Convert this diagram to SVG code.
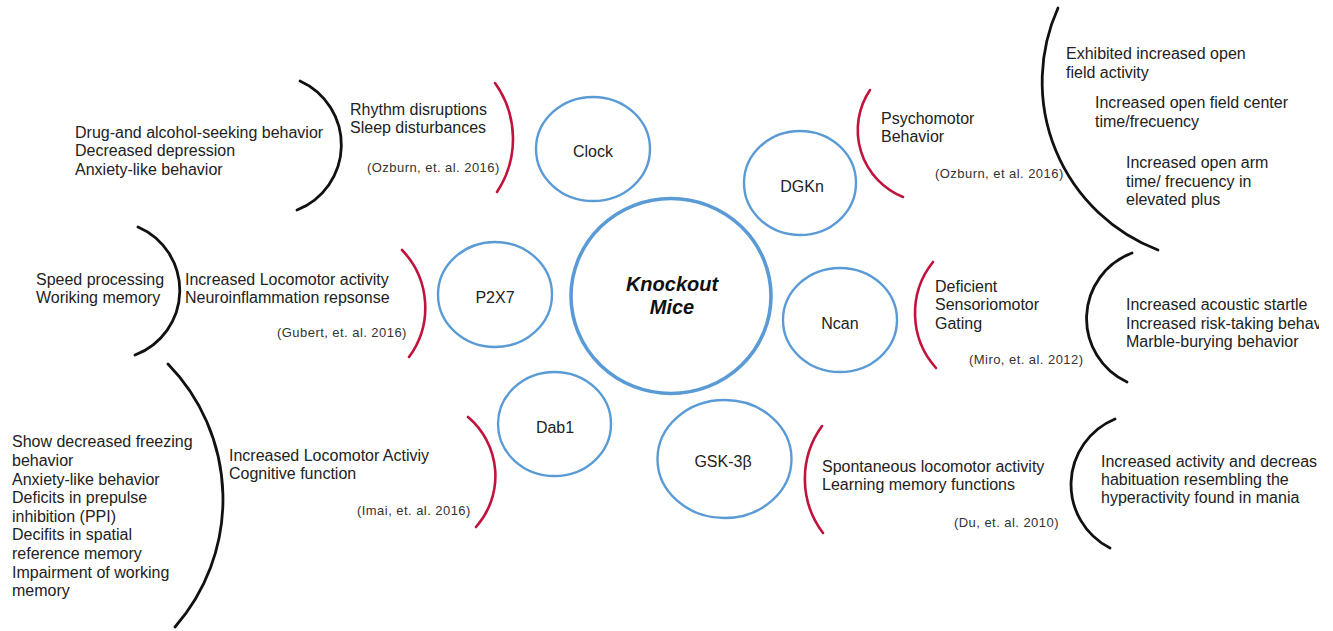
<svg xmlns="http://www.w3.org/2000/svg" width="1333" height="631" viewBox="0 0 1333 631">
<style>
.bg{fill:#ffffff}
.node{fill:#ffffff;stroke:#5b9bd5;stroke-width:2.4}
.hub{fill:#ffffff;stroke:#5b9bd5;stroke-width:3.6}
.red{fill:none;stroke:#c0143c;stroke-width:2.6;stroke-linecap:round}
.blk{fill:none;stroke:#111111;stroke-width:2.8;stroke-linecap:round}
text{font-family:"Liberation Sans",Arial,sans-serif;fill:#222222}
.t{font-size:16px}
.lbl{font-size:16px;text-anchor:middle}
.hubt{font-size:20px;font-weight:bold;font-style:italic;text-anchor:middle;fill:#111111}
.cit{font-size:13px;letter-spacing:0.45px;fill:#333333}
</style>
<defs>
<clipPath id="edge"><rect x="0" y="0" width="1319" height="631"/></clipPath>
</defs>
<rect class="bg" x="0" y="0" width="1333" height="631"/>

<g id="connectors">
<path class="red" d="M495,83 A96,96 0 0 1 497,192"/>
<path class="red" d="M402,250 A83,83 0 0 1 409,357"/>
<path class="red" d="M468,417 A77,77 0 0 1 476,527"/>
<path class="red" d="M870,90 A72,72 0 0 0 903,197"/>
<path class="red" d="M933,262 A82,82 0 0 0 936,368"/>
<path class="red" d="M822,426 A90,90 0 0 0 823,533"/>
<path class="blk" d="M300,81 A70,70 0 0 1 297,210"/>
<path class="blk" d="M138,227 A69,69 0 0 1 135,355"/>
<path class="blk" d="M168,364 A194,194 0 0 1 175,627"/>
<path class="blk" d="M1058,8 A180,180 0 0 0 1158,250"/>
<path class="blk" d="M1132,253 A70,70 0 0 0 1127,382"/>
<path class="blk" d="M1115,419 A71,71 0 0 0 1110,548"/>
</g>

<g id="hub">
<ellipse class="hub" cx="671" cy="296" rx="100" ry="97.5"/>
<text class="hubt" x="672" y="291">Knockout</text>
<text class="hubt" x="672" y="314">Mice</text>
</g>

<g id="clock">
<ellipse class="node" cx="593" cy="149" rx="57" ry="52"/>
<text class="lbl" x="593" y="157">Clock</text>
<text class="t" x="350" y="114.5">Rhythm disruptions</text>
<text class="t" x="350" y="133">Sleep disturbances</text>
<text class="cit" x="367" y="171.5">(Ozburn, et. al. 2016)</text>
<text class="t" x="75" y="137.5">Drug-and alcohol-seeking behavior</text>
<text class="t" x="75" y="156">Decreased depression</text>
<text class="t" x="75" y="174.5">Anxiety-like behavior</text>
</g>

<g id="dgkn">
<ellipse class="node" cx="800" cy="183" rx="56" ry="52"/>
<text class="lbl" x="802" y="192">DGKn</text>
<text class="t" x="881" y="123.5">Psychomotor</text>
<text class="t" x="881" y="142">Behavior</text>
<text class="cit" x="935" y="178">(Ozburn, et al. 2016)</text>
<text class="t" x="1066" y="59.3">Exhibited increased open</text>
<text class="t" x="1066" y="78">field activity</text>
<text class="t" x="1095" y="108.3">Increased open field center</text>
<text class="t" x="1095" y="126.7">time/frecuency</text>
<text class="t" x="1126" y="168.3">Increased open arm</text>
<text class="t" x="1126" y="186.7">time/ frecuency in</text>
<text class="t" x="1126" y="205">elevated plus</text>
</g>

<g id="p2x7">
<ellipse class="node" cx="495" cy="294.5" rx="57" ry="52.5"/>
<text class="lbl" x="495" y="303">P2X7</text>
<text class="t" x="185" y="284.5">Increased Locomotor activity</text>
<text class="t" x="185" y="303">Neuroinflammation repsonse</text>
<text class="cit" x="277" y="336.5">(Gubert, et. al. 2016)</text>
<text class="t" x="36" y="284.5">Speed processing</text>
<text class="t" x="36" y="303">Woriking memory</text>
</g>

<g id="ncan">
<ellipse class="node" cx="840" cy="320" rx="57" ry="52"/>
<text class="lbl" x="840" y="328.5">Ncan</text>
<text class="t" x="935" y="291.7">Deficient</text>
<text class="t" x="935" y="310">Sensoriomotor</text>
<text class="t" x="935" y="328.5">Gating</text>
<text class="cit" x="969" y="364">(Miro, et. al. 2012)</text>
<g clip-path="url(#edge)">
<text class="t" x="1126" y="310">Increased acoustic startle</text>
<text class="t" x="1126" y="328.5">Increased risk-taking behav</text>
<text class="t" x="1126" y="347">Marble-burying behavior</text>
</g>
</g>

<g id="dab1">
<ellipse class="node" cx="554.5" cy="424" rx="56.5" ry="52"/>
<text class="lbl" x="555" y="433">Dab1</text>
<text class="t" x="229" y="460.7">Increased Locomotor Activiy</text>
<text class="t" x="229" y="479">Cognitive function</text>
<text class="cit" x="357" y="515">(Imai, et. al. 2016)</text>
<text class="t" x="12" y="447.3">Show decreased freezing</text>
<text class="t" x="12" y="466">behavior</text>
<text class="t" x="12" y="484.6">Anxiety-like behavior</text>
<text class="t" x="12" y="503.2">Deficits in prepulse</text>
<text class="t" x="12" y="521.8">inhibition (PPI)</text>
<text class="t" x="12" y="540.4">Decifits in spatial</text>
<text class="t" x="12" y="559">reference memory</text>
<text class="t" x="12" y="577.6">Impairment of working</text>
<text class="t" x="12" y="596.2">memory</text>
</g>

<g id="gsk3b">
<ellipse class="node" cx="724.5" cy="459" rx="67" ry="59"/>
<text class="lbl" x="723" y="466.5">GSK-3β</text>
<text class="t" x="822" y="471.7">Spontaneous locomotor activity</text>
<text class="t" x="822" y="490">Learning memory functions</text>
<text class="cit" x="954" y="526.7">(Du, et. al. 2010)</text>
<g clip-path="url(#edge)">
<text class="t" x="1101" y="466.7">Increased activity and decreas</text>
<text class="t" x="1101" y="485">habituation resembling the</text>
<text class="t" x="1101" y="503.3">hyperactivity found in mania</text>
</g>
</g>
</svg>
